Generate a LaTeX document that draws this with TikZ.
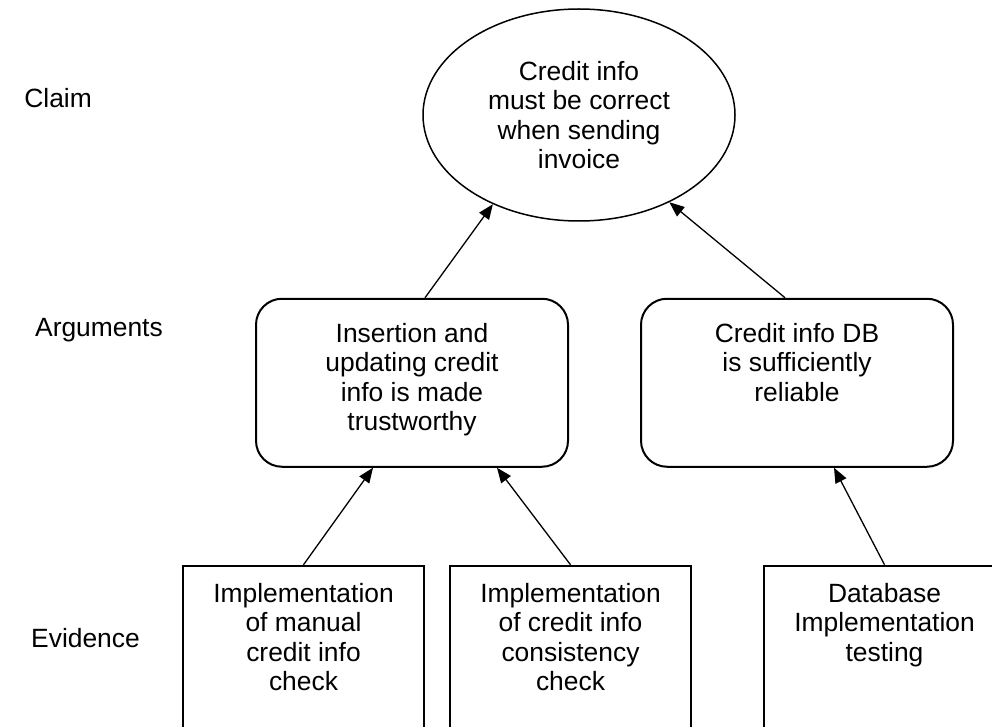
\documentclass[tikz,border=0pt]{standalone}
\usepackage{fontspec}
\setmainfont{Liberation Sans}
\usetikzlibrary{positioning,shapes.geometric,arrows.meta}

\begin{document}
\begin{tikzpicture}[
  >={Triangle[length=15pt,width=12pt]},
  x=1pt, y=1pt,
  txt/.style={font=\fontsize{26.4}{29.5}\selectfont, align=center, inner sep=0pt},
  claimE/.style={ellipse, draw, line width=1.5pt, minimum width=312pt, minimum height=212pt, txt},
  argbox/.style={draw, line width=2pt, rounded corners=26pt, minimum width=312pt, minimum height=168pt},
  evbox/.style={draw, line width=2pt, minimum width=241pt, minimum height=240pt},
  tier/.style={txt, anchor=base east},
  link/.style={->, line width=1.3pt}
]
\path[use as bounding box, clip] (0,0) rectangle (992,-727);

\node[claimE] (claim) at (579,-115) {Credit info\\must be correct\\when sending\\invoice};

\node[argbox, below=76pt of claim, xshift=-167pt] (argL) {};
\node[argbox, right=71pt of argL] (argR) {};
\node[txt, below=25pt of argL.north] (argLtxt) {Insertion and\\updating credit\\info is made\\trustworthy};
\node[txt, below=25pt of argR.north] (argRtxt) {Credit info DB\\is sufficiently\\reliable};

\node[evbox, below=97pt of argL, xshift=-108.5pt] (ev1) {};
\node[evbox, right=24pt of ev1] (ev2) {};
\node[evbox, right=71pt of ev2] (ev3) {};
\node[txt, below=18pt of ev1.north] (ev1txt) {Implementation\\of manual\\credit info\\check};
\node[txt, below=18pt of ev2.north] (ev2txt) {Implementation\\of credit info\\consistency\\check};
\node[txt, below=18pt of ev3.north] (ev3txt) {Database\\Implementation\\testing};

\node[tier] (lblClaim) at (92,-108) {Claim};
\node[tier] (lblArg) at (163,-336) {Arguments};
\node[tier] (lblEv) at (140,-647) {Evidence};

\draw[link] ([xshift=13pt]argL.north) -- (claim.226);
\draw[link] ([xshift=-12pt]argR.north) -- (claim.316);
\draw[link] (ev1.north) -- ([xshift=-39pt]argL.south);
\draw[link] (ev2.north) -- ([xshift=85pt]argL.south);
\draw[link] (ev3.north) -- ([xshift=37pt]argR.south);
\end{tikzpicture}
\end{document}
